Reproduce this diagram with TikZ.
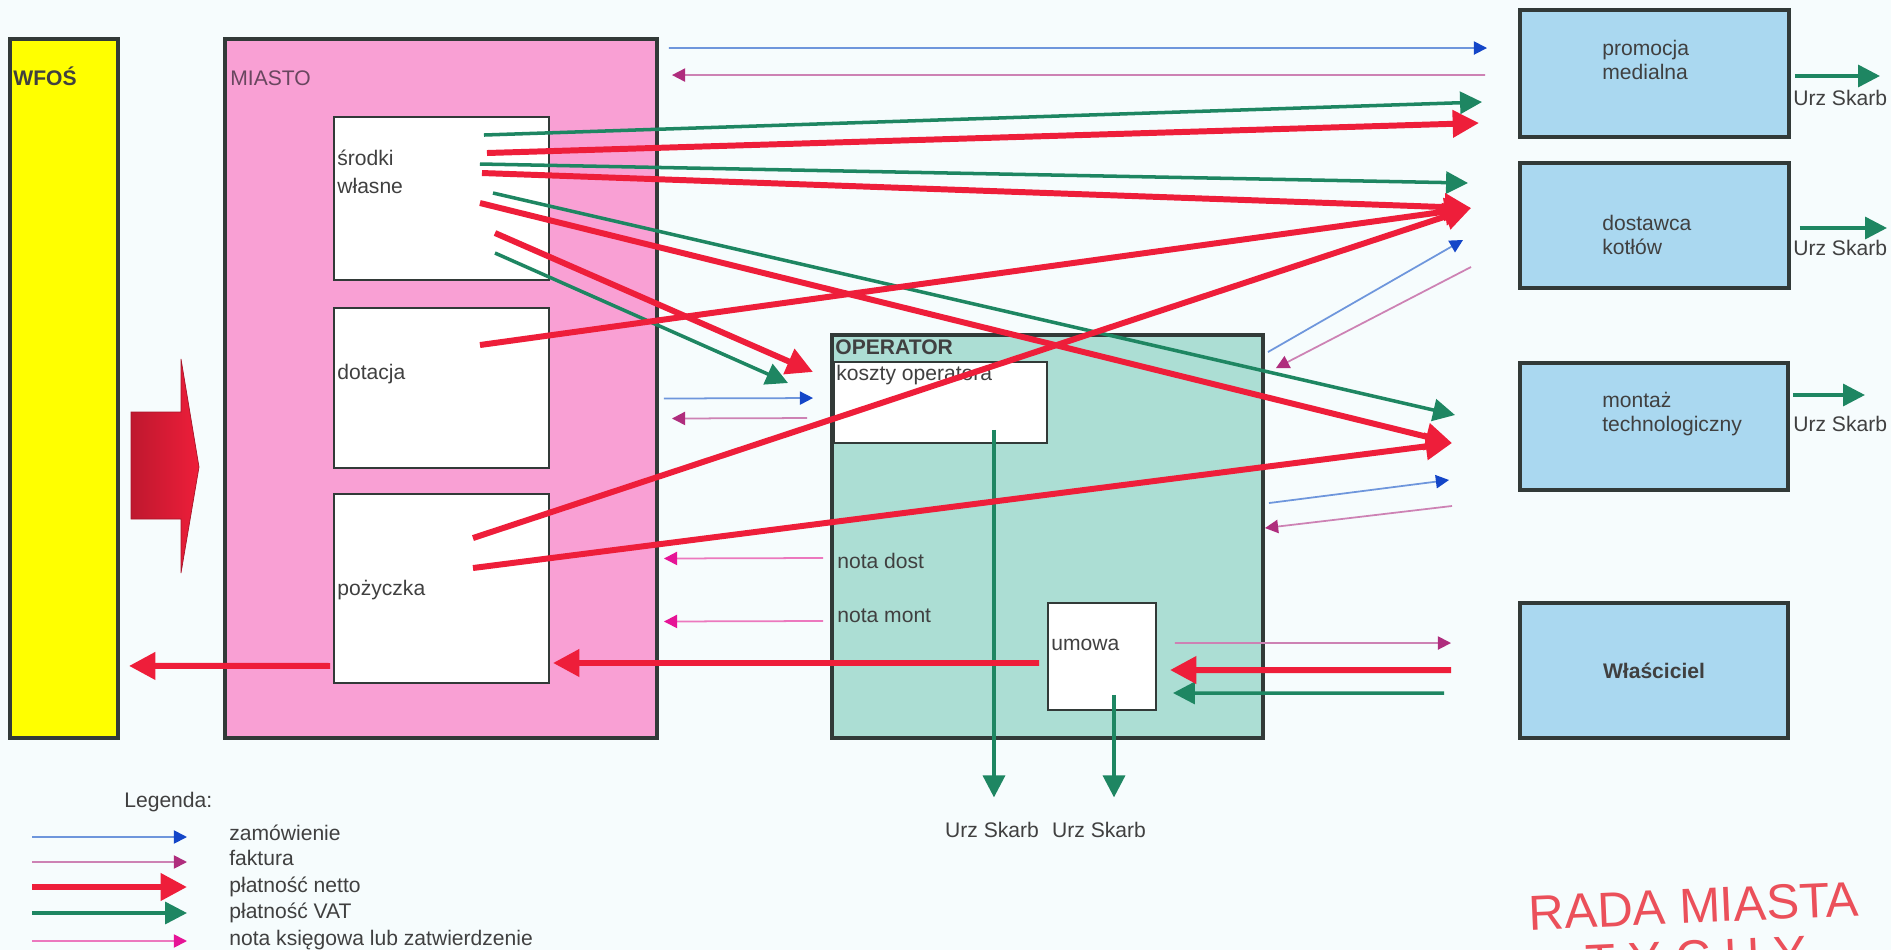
\documentclass[tikz,border=0pt]{standalone}
\usepackage{fontspec}
\setmainfont{Liberation Sans}
\usepackage{tikz}
\usetikzlibrary{arrows.meta,positioning,calc}

\definecolor{bgcol}{RGB}{246,252,253}
\definecolor{wfosyellow}{RGB}{255,255,0}
\definecolor{miastopink}{RGB}{249,160,212}
\definecolor{opteal}{RGB}{172,222,212}
\definecolor{firmblue}{RGB}{170,216,240}
\definecolor{boxline}{RGB}{50,58,56}
\definecolor{txtgray}{RGB}{64,64,64}
\definecolor{miastotxt}{RGB}{105,70,95}
\definecolor{netred}{RGB}{238,30,58}
\definecolor{vatgreen}{RGB}{30,134,98}
\definecolor{zamblue}{RGB}{110,150,220}
\definecolor{zamtip}{RGB}{20,70,200}
\definecolor{fakline}{RGB}{205,130,180}
\definecolor{faktip}{RGB}{175,45,125}
\definecolor{notaline}{RGB}{236,120,190}
\definecolor{notatip}{RGB}{230,20,150}
\definecolor{stampred}{RGB}{235,80,90}

\begin{document}
\begin{tikzpicture}[x=0.02cm, y=-0.02cm,
    every node/.append style={font=\fontsize{12}{14}\selectfont, text=txtgray},
    outer/.style={draw=boxline, line width=2pt, inner sep=0pt, outer sep=0pt},
    inner/.style={draw=boxline, line width=0.8pt, fill=white, inner sep=0pt, outer sep=0pt},
    firm/.style={outer, fill=firmblue},
    lbl/.style={inner sep=0pt, text height=8.5pt, text depth=2.5pt, anchor=west},
    stamptxt/.style={rotate=2.5, inner sep=0pt, align=center, text=stampred, font=\fontsize{28}{29.5}\selectfont},
    zam/.style={draw=zamblue, line width=1pt, -{Triangle[length=7.5pt,width=7.5pt,color=zamtip]}},
    fak/.style={draw=fakline, line width=1pt, -{Triangle[length=7.5pt,width=7.5pt,color=faktip]}},
    nota/.style={draw=notaline, line width=1pt, -{Triangle[length=7.5pt,width=7.5pt,color=notatip]}},
    netto/.style={draw=netred, line width=3.4pt, -{Triangle[length=15pt,width=15pt]}},
    vat/.style={draw=vatgreen, line width=2pt, -{Triangle[length=12.5pt,width=12.5pt]}}]
        \useasboundingbox (0,0) rectangle (1891,950);
        \clip (0,0) rectangle (1891,950);
        \fill[bgcol] (0,0) rectangle (1891,950);

        % Boxes
        \node[outer, fill=wfosyellow, minimum width=2.16cm, minimum height=13.98cm] (wfos) at (64,388.5) {};
        \node[outer, fill=miastopink, minimum width=8.64cm, minimum height=13.98cm] (miasto) at (441,388.5) {};
        \node[inner, minimum width=4.3cm, minimum height=3.26cm] (srodki) at (441.5,198.5) {};
        \node[inner, minimum width=4.3cm, minimum height=3.2cm] (dotacja) at (441.5,388) {};
        \node[inner, minimum width=4.3cm, minimum height=3.78cm] (pozyczka) at (441.5,588.5) {};
        \node[outer, fill=opteal, minimum width=8.62cm, minimum height=8.06cm] (operator) at (1047.5,536.5) {};
        \node[inner, minimum width=4.26cm, minimum height=1.62cm] (koszty) at (940.5,402.5) {};
        \node[inner, minimum width=2.16cm, minimum height=2.14cm] (umowa) at (1102,656.5) {};
        \node[firm, minimum width=5.38cm, minimum height=2.54cm] (promo) at (1654.5,73.5) {};
        \node[firm, minimum width=5.38cm, minimum height=2.5cm] (dostawca) at (1654.5,225.5) {};
        \node[firm, minimum width=5.36cm, minimum height=2.54cm] (montaz) at (1654,426.5) {};
        \node[firm, minimum width=5.36cm, minimum height=2.7cm] (wlasc) at (1654,670.5) {\textbf{Właściciel}};

        % Big transfer arrow
        \shade[left color=netred!80!black, right color=netred, draw=netred!70!black, line width=0.4pt] (131,412) -- (181,412) -- (181,359) -- (199,467) -- (181,573) -- (181,519) -- (131,519) -- cycle;

        % Labels
        \node[lbl] (wfosT) at (13,80) {\textbf{WFOŚ}};
        \node[lbl, text=miastotxt] (miastoT) at (230,80) {MIASTO};
        \node[lbl] (srodkiT) at (337,160) {środki};
        \node[lbl] (srodkiT2) at (337,188) {własne};
        \node[lbl] (dotacjaT) at (337,374) {dotacja};
        \node[lbl] (pozyczkaT) at (337,590) {pożyczka};
        \node[lbl] (operatorT) at (835,349) {\textbf{OPERATOR}};
        \node[lbl] (kosztyT) at (836,375) {koszty operatora};
        \node[lbl] (notadost) at (837,563) {nota dost};
        \node[lbl] (notamont) at (837,617) {nota mont};
        \node[lbl] (umowaT) at (1051,645) {umowa};
        \node[lbl] (promoT) at (1602,50) {promocja};
        \node[lbl] (promoT2) at (1602,74) {medialna};
        \node[lbl] (dostawcaT) at (1602,225) {dostawca};
        \node[lbl] (dostawcaT2) at (1602,249) {kotłów};
        \node[lbl] (montazT) at (1602,402) {montaż};
        \node[lbl] (montazT2) at (1602,426) {technologiczny};
        \node[lbl] (usk3) at (1793,100) {Urz Skarb};
        \node[lbl] (usk4) at (1793,250) {Urz Skarb};
        \node[lbl] (usk5) at (1793,426) {Urz Skarb};
        \node[lbl, anchor=center] (usk1) at (992,832) {Urz Skarb};
        \node[lbl, anchor=center] (usk2) at (1099,832) {Urz Skarb};

        % Orders, invoices, notes
        \draw[zam] ([shift={(12,9)}]miasto.north east) -- ([shift={(-33,38)}]promo.north west);
        \draw[fak] ([shift={(-35,65)}]promo.north west) -- ([shift={(15,36)}]miasto.north east);
        \draw[zam] ([shift={(7,10)}]miasto.east) -- ([shift={(-19,63)}]operator.north west);
        \draw[fak] ([shift={(-25,83)}]operator.north west) -- ([shift={(15,30)}]miasto.east);
        \draw[nota] ([shift={(-14,-5)}]notadost.west) -- ([shift={(7,170)}]miasto.east);
        \draw[nota] ([shift={(-14,4)}]notamont.west) -- ([shift={(7,233)}]miasto.east);
        \draw[zam] ([shift={(5,17)}]operator.north east) -- ([shift={(-57,-48)}]dostawca.south west);
        \draw[fak] ([shift={(-49,-21)}]dostawca.south west) -- ([shift={(13,33)}]operator.north east);
        \draw[zam] ([shift={(6,168)}]operator.north east) -- ([shift={(-71,-10)}]montaz.south west);
        \draw[fak] ([shift={(-68,16)}]montaz.south west) -- ([shift={(2,193)}]operator.north east);
        \draw[fak] ([shift={(19,40)}]umowa.north east) -- ([shift={(-69,40)}]wlasc.north west);

        % VAT payments
        \coordinate (kosztytax) at ([shift={(-53,-13)}]koszty.south east);
        \coordinate (umowatax) at ([shift={(66,-15)}]umowa.south west);
        \draw[vat] ([shift={(-65,18)}]srodki.north east) -- ([shift={(-38,92)}]promo.north west);
        \draw[vat] ([shift={(-69,47)}]srodki.north east) -- ([shift={(-52,20)}]dostawca.north west);
        \draw[vat] ([shift={(-56,76)}]srodki.north east) -- ([shift={(-65,52)}]montaz.north west);
        \draw[vat] ([shift={(-54,136)}]srodki.north east) -- ([shift={(-46,21)}]koszty.north west);
        \draw[vat] ([shift={(-76,90)}]wlasc.north west) -- ([shift={(17,90)}]umowa.north east);
        \draw[vat, shorten >=14pt] (kosztytax) -- (kosztytax |- usk1.north);
        \draw[vat, shorten >=14pt] (umowatax) -- (umowatax |- usk2.north);
        \draw[vat] ([shift={(6,2.5)}]promo.east) -- ([shift={(91,2.5)}]promo.east);
        \draw[vat] ([shift={(11,2.5)}]dostawca.east) -- ([shift={(98,2.5)}]dostawca.east);
        \draw[vat] ([shift={(5,-31.5)}]montaz.east) -- ([shift={(77,-31.5)}]montaz.east);

        % Net payments
        \draw[netto] ([shift={(-62,36)}]srodki.north east) -- ([shift={(-41,113)}]promo.north west);
        \draw[netto] ([shift={(-67,56)}]srodki.north east) -- ([shift={(-49,45)}]dostawca.north west);
        \draw[netto] ([shift={(-69,86)}]srodki.north east) -- ([shift={(-68,80)}]montaz.north west);
        \draw[netto] ([shift={(-54,116)}]srodki.north east) -- ([shift={(-21,10)}]koszty.north west);
        \draw[netto] ([shift={(-69,37)}]dotacja.north east) -- ([shift={(-49,45)}]dostawca.north west);
        \draw[netto] ([shift={(-76,44)}]pozyczka.north east) -- ([shift={(-49,45)}]dostawca.north west);
        \draw[netto] ([shift={(-76,74)}]pozyczka.north east) -- ([shift={(-68,80)}]montaz.north west);
        \draw[netto] ([shift={(-9,-47)}]umowa.south west) -- ([shift={(4,-20)}]pozyczka.south east);
        \draw[netto] ([shift={(-4,-17)}]pozyczka.south west) -- ([shift={(11,-72)}]wfos.south east);
        \draw[netto] ([shift={(-69,67)}]wlasc.north west) -- ([shift={(14,67)}]umowa.north east);

        % Legend
        \node[lbl] (legenda) at (124,802) {Legenda:};
        \node[lbl] (lzam) at (229,835) {zamówienie};
        \node[lbl] (lfak) at (229,860) {faktura};
        \node[lbl] (lnetto) at (229,887) {płatność netto};
        \node[lbl] (lvat) at (229,913) {płatność VAT};
        \node[lbl] (lnota) at (229,940) {nota księgowa lub zatwierdzenie};
        \draw[zam] ([shift={(-197,2)}]lzam.west) -- ([shift={(-42,2)}]lzam.west);
        \draw[fak] ([shift={(-197,2)}]lfak.west) -- ([shift={(-42,2)}]lfak.west);
        \draw[netto] ([shift={(-197,0)}]lnetto.west) -- ([shift={(-42,0)}]lnetto.west);
        \draw[vat] ([shift={(-197,0)}]lvat.west) -- ([shift={(-42,0)}]lvat.west);
        \draw[nota] ([shift={(-197,1)}]lnota.west) -- ([shift={(-42,1)}]lnota.west);

        % Stamp
        \node[stamptxt] (stamp) at (1695,932) {RADA MIASTA\\T Y C H Y};
    \end{tikzpicture}
\end{document}
